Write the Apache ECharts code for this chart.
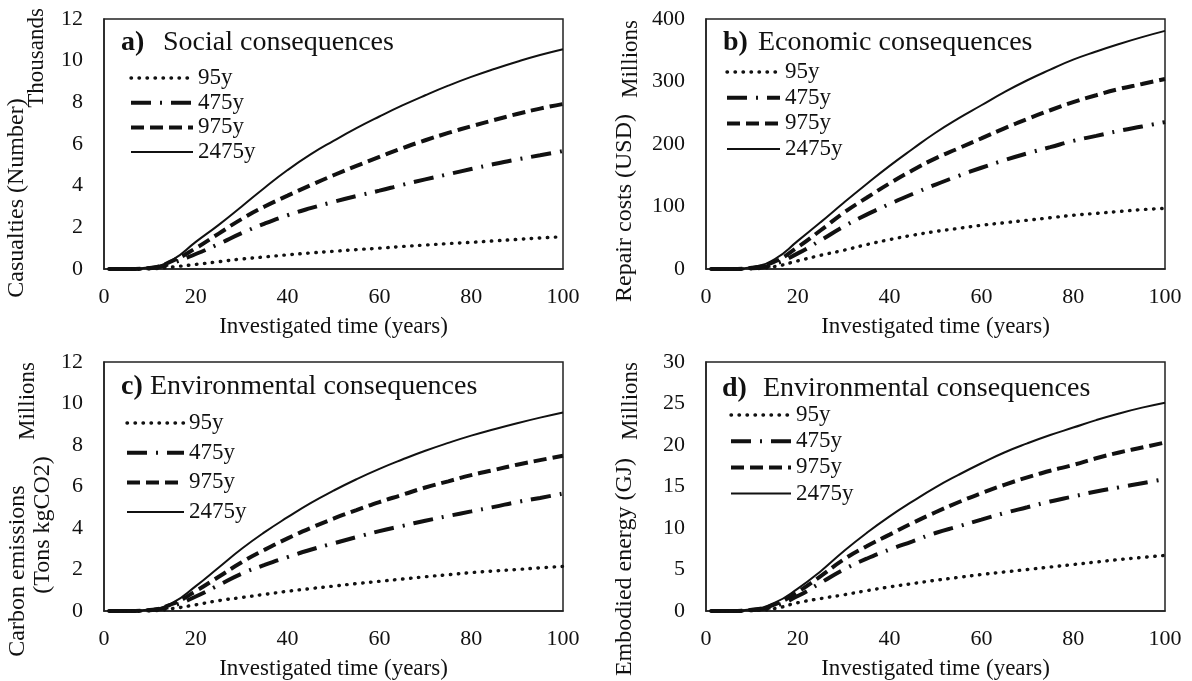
<!DOCTYPE html>
<html>
<head>
<meta charset="utf-8">
<script src="https://cdn.jsdelivr.net/npm/echarts@6/dist/echarts.min.js"></script>
<style>
html,body{margin:0;padding:0;background:#fff;}
#main{width:1192px;height:681px;}
</style>
</head>
<body>
<div id="main"></div>
<script>
// ---- data ----
var years = [1, 5, 10, 15, 20, 25, 30, 35, 40, 45, 50, 55, 60, 65, 70, 75, 80, 85, 90, 95, 100];
var seriesNames = ['95y', '475y', '975y', '2475y'];

// a) Social consequences – casualties (thousands)
var social95   = [0, 0, 0.01, 0.1, 0.22, 0.35, 0.48, 0.58, 0.68, 0.77, 0.85, 0.93, 1.0, 1.08, 1.15, 1.22, 1.28, 1.35, 1.42, 1.49, 1.55];
var social475  = [0, 0, 0.03, 0.3, 0.72, 1.2, 1.72, 2.18, 2.58, 2.92, 3.22, 3.5, 3.76, 4.04, 4.3, 4.55, 4.8, 5.04, 5.26, 5.46, 5.66];
var social975  = [0, 0, 0.05, 0.4, 1.0, 1.7, 2.4, 3.0, 3.52, 4.02, 4.5, 4.95, 5.38, 5.8, 6.18, 6.53, 6.85, 7.15, 7.44, 7.7, 7.92];
var social2475 = [0, 0, 0.08, 0.45, 1.3, 2.12, 3.0, 3.9, 4.75, 5.5, 6.15, 6.76, 7.32, 7.85, 8.34, 8.8, 9.22, 9.6, 9.95, 10.27, 10.55];

// b) Economic consequences – repair costs (millions USD)
var econ95   = [0, 0, 0.5, 4, 13, 22, 30, 39, 47, 54, 60, 65, 70, 74, 78, 82, 86, 89, 92, 95, 97];
var econ475  = [0, 0, 1, 8, 25, 46, 68, 87, 104, 120, 135, 149, 162, 174, 185, 195, 205, 213, 221, 228, 235];
var econ975  = [0, 0, 2, 12, 35, 62, 90, 114, 137, 158, 177, 193, 209, 225, 240, 254, 267, 278, 288, 296, 304];
var econ2475 = [0, 0, 3, 16, 45, 75, 106, 136, 165, 192, 218, 241, 262, 283, 302, 319, 335, 348, 360, 371, 381];

// c) Environmental consequences – carbon emissions (millions)
var carbon95   = [0, 0, 0.01, 0.12, 0.3, 0.5, 0.65, 0.8, 0.95, 1.08, 1.2, 1.32, 1.43, 1.54, 1.65, 1.75, 1.85, 1.93, 2.0, 2.08, 2.15];
var carbon475  = [0, 0, 0.03, 0.25, 0.7, 1.25, 1.8, 2.22, 2.6, 2.95, 3.26, 3.56, 3.85, 4.1, 4.35, 4.58, 4.8, 5.02, 5.25, 5.45, 5.66];
var carbon975  = [0, 0, 0.05, 0.35, 0.96, 1.65, 2.35, 2.95, 3.5, 4.0, 4.45, 4.86, 5.25, 5.6, 5.95, 6.25, 6.55, 6.8, 7.05, 7.27, 7.48];
var carbon2475 = [0, 0, 0.07, 0.4, 1.2, 2.1, 3.0, 3.8, 4.52, 5.2, 5.8, 6.35, 6.85, 7.3, 7.72, 8.1, 8.45, 8.76, 9.05, 9.32, 9.57];

// d) Environmental consequences – embodied energy (millions GJ)
var energy95   = [0, 0, 0.05, 0.3, 1.0, 1.5, 1.95, 2.45, 2.9, 3.3, 3.7, 4.05, 4.4, 4.7, 5.0, 5.3, 5.6, 5.9, 6.2, 6.45, 6.7];
var energy475  = [0, 0, 0.1, 0.6, 1.8, 3.4, 5.0, 6.3, 7.4, 8.4, 9.4, 10.2, 11.0, 11.8, 12.5, 13.2, 13.8, 14.4, 14.9, 15.4, 15.9];
var energy975  = [0, 0, 0.15, 0.8, 2.3, 4.2, 6.2, 7.8, 9.2, 10.6, 11.9, 13.1, 14.2, 15.2, 16.1, 16.9, 17.6, 18.4, 19.1, 19.7, 20.3];
var energy2475 = [0, 0, 0.2, 1.0, 2.7, 4.8, 7.2, 9.4, 11.4, 13.2, 14.9, 16.4, 17.8, 19.1, 20.2, 21.2, 22.1, 23.0, 23.8, 24.5, 25.1];

var xTicks = { min: 0, max: 100, interval: 20 };
var yScales = [
  { min: 0, max: 12, interval: 2 },
  { min: 0, max: 400, interval: 100 },
  { min: 0, max: 12, interval: 2 },
  { min: 0, max: 30, interval: 5 }
];
var panels = [
  [social95, social475, social975, social2475],
  [econ95, econ475, econ975, econ2475],
  [carbon95, carbon475, carbon975, carbon2475],
  [energy95, energy475, energy975, energy2475]
];

// ---- styling ----
var FONT = '"Liberation Serif", "Times New Roman", serif';
var lineStyles = [
  { color: '#111', width: 3.4, type: [0.5, 7.5], cap: 'round' },
  { color: '#111', width: 4, type: [20, 9, 2, 9], cap: 'butt' },
  { color: '#111', width: 4, type: [13, 6], cap: 'butt' },
  { color: '#111', width: 2, type: 'solid', cap: 'butt' }
];

var grids = [
  { left: 104, top: 19, width: 459, height: 250 },
  { left: 706, top: 19, width: 459, height: 250 },
  { left: 104, top: 362, width: 459, height: 251 },
  { left: 706, top: 362, width: 459, height: 251 }
];

function pairs(vals) {
  return years.map(function (x, i) { return [x, vals[i]]; });
}

var xAxes = [], yAxes = [], series = [];
grids.forEach(function (g, gi) {
  g.show = true;
  g.borderColor = '#222';
  g.borderWidth = 1.5;
  xAxes.push({
    type: 'value', gridIndex: gi, min: xTicks.min, max: xTicks.max, interval: xTicks.interval,
    name: 'Investigated time (years)', nameLocation: 'middle', nameGap: 46,
    nameTextStyle: { fontFamily: FONT, fontSize: 23, color: '#111' },
    axisLine: { show: true, lineStyle: { color: '#222', width: 1.5 } },
    axisTick: { show: false }, splitLine: { show: false },
    axisLabel: { fontFamily: FONT, fontSize: 22, color: '#111', margin: 17 }
  });
  yAxes.push({
    type: 'value', gridIndex: gi, min: yScales[gi].min, max: yScales[gi].max, interval: yScales[gi].interval,
    axisLine: { show: true, lineStyle: { color: '#222', width: 1.5 } },
    axisTick: { show: false }, splitLine: { show: false },
    axisLabel: { fontFamily: FONT, fontSize: 22, color: '#111', margin: 21 }
  });
  panels[gi].forEach(function (vals, si) {
    series.push({
      type: 'line', name: seriesNames[si], xAxisIndex: gi, yAxisIndex: gi,
      data: pairs(vals), showSymbol: false, symbol: 'none',
      smooth: 0.5, z: 10 - si,
      itemStyle: { color: '#111' },
      lineStyle: lineStyles[si], animation: false
    });
  });
});

var legendPos = [
  { left: 129, top: 66, itemWidth: 62, itemGap: 0.7 },
  { left: 725, top: 60, itemWidth: 53, itemGap: 1.7 },
  { left: 125, top: 411, itemWidth: 57, itemGap: 5.7 },
  { left: 729, top: 403, itemWidth: 60, itemGap: 2.2 }
];
var legends = legendPos.map(function (p) {
  return {
    orient: 'vertical', left: p.left, top: p.top, padding: 0,
    itemWidth: p.itemWidth, itemHeight: 14, itemGap: p.itemGap,
    data: seriesNames,
    itemStyle: { opacity: 0 },
    lineStyle: { width: 'inherit', type: 'inherit', cap: 'inherit', color: '#111' },
    textStyle: { fontFamily: FONT, fontSize: 23, color: '#111', lineHeight: 24 },
    selectedMode: false
  };
});

function txt(x, y, text, size, opts) {
  opts = opts || {};
  return {
    type: 'text', x: x, y: y, rotation: opts.rot ? Math.PI / 2 : 0, z: 100,
    style: {
      text: text, fill: '#111',
      font: (opts.bold ? 'bold ' : '') + size + 'px ' + FONT,
      textAlign: opts.align || 'center', textVerticalAlign: 'middle'
    }
  };
}

var graphics = [
  // panel titles
  txt(121, 43, 'a)', 28, { bold: true, align: 'left' }),
  txt(163, 43, 'Social consequences', 28, { align: 'left' }),
  txt(723, 43, 'b)', 28, { bold: true, align: 'left' }),
  txt(758, 43, 'Economic consequences', 28, { align: 'left' }),
  txt(121, 387, 'c)', 28, { bold: true, align: 'left' }),
  txt(150, 387, 'Environmental consequences', 28, { align: 'left' }),
  txt(722, 389, 'd)', 28, { bold: true, align: 'left' }),
  txt(763, 389, 'Environmental consequences', 28, { align: 'left' }),
  // y-axis titles
  txt(17, 198, 'Casualties (Number)', 24, { rot: true }),
  txt(37, 58, 'Thousands', 23, { rot: true }),
  txt(625, 208, 'Repair costs (USD)', 24, { rot: true }),
  txt(631, 59, 'Millions', 23, { rot: true }),
  txt(18, 571, 'Carbon emissions', 24, { rot: true }),
  txt(43, 525, '(Tons kgCO2)', 24, { rot: true }),
  txt(28, 401, 'Millions', 23, { rot: true }),
  txt(625, 567, 'Embodied energy (GJ)', 24, { rot: true }),
  txt(631, 401, 'Millions', 23, { rot: true })
];

var chart = echarts.init(document.getElementById('main'), null, { renderer: 'canvas' });
chart.setOption({
  animation: false,
  backgroundColor: '#fff',
  grid: grids,
  xAxis: xAxes,
  yAxis: yAxes,
  legend: legends,
  series: series,
  graphic: graphics
});
</script>
</body>
</html>
